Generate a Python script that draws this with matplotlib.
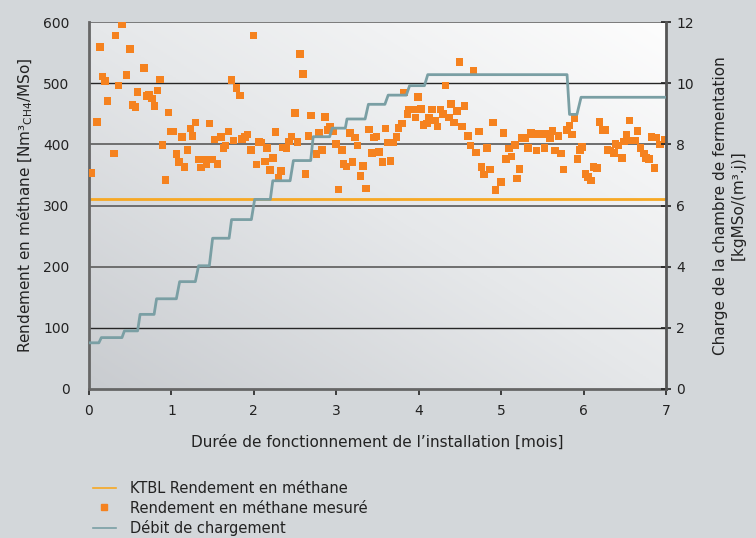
import numpy as np
import matplotlib.pyplot as plt
from matplotlib.colors import LinearSegmentedColormap
from matplotlib.lines import Line2D

# measured methane yield (months, Nm3 CH4 / t MSo)
mes_x = [0.397, 0.324, 0.130, 0.494, 0.664, 0.457, 0.166, 0.194, 0.861, 0.360,
         0.591, 0.833, 0.700, 0.728, 0.761, 0.227, 0.530, 0.562, 0.797, 0.967,
         0.097, 1.294, 1.464, 1.234, 0.995, 1.023, 1.258, 1.125, 1.695, 1.598,
         1.525, 1.751, 0.894, 1.658, 1.634, 0.300, 1.197, 1.064, 1.092, 1.161,
         1.331, 1.392, 1.492, 1.428, 1.362, 1.561, 0.028, 0.930, 1.731,
         1.998, 2.560, 2.593, 1.792, 1.832, 2.499, 2.693, 2.863, 1.860, 1.893,
         1.925, 2.265, 2.459, 2.665, 2.794, 2.924, 2.896, 2.964, 3.166, 3.227,
         3.397, 3.457, 3.490, 2.062, 2.095, 2.423, 2.532, 2.357, 2.398, 2.159,
         1.962, 2.996, 3.260, 3.066, 2.827, 2.762, 2.229, 2.132, 2.034, 3.433,
         3.518, 3.090, 3.126, 3.199, 3.328, 2.196, 2.326, 2.297, 2.629, 3.296,
         3.360, 3.029,
         4.497, 4.667, 4.327, 3.825, 3.995, 4.392, 4.558, 3.886, 3.931, 3.862,
         4.028, 4.161, 4.267, 4.295, 4.464, 3.963, 4.125, 4.198, 4.367, 4.060,
         4.100, 4.230, 4.428, 4.525, 3.794, 3.757, 3.599, 4.898, 4.731, 5.031,
         4.598, 3.733, 3.631, 3.692, 4.631, 4.695, 4.828, 5.253, 5.168, 5.095,
         5.128, 5.059, 3.563, 3.660, 4.764, 4.865, 4.792, 5.225, 5.192, 4.995,
         4.934,
         5.892, 5.832, 5.799, 5.860, 6.196, 6.559, 6.232, 6.264, 6.657, 6.523,
         5.625, 5.359, 5.390, 5.447, 5.487, 5.520, 5.553, 5.593, 5.698, 5.298,
         6.826, 6.887, 6.494, 6.591, 6.632, 6.991, 6.927, 6.390, 6.426, 5.985,
         5.960, 5.329, 5.431, 5.528, 5.657, 5.730, 6.293, 6.329, 6.373, 6.693,
         6.733, 6.757, 6.797, 6.466, 5.929, 5.759, 6.123, 6.163, 6.863, 6.026,
         6.057, 6.094]
mes_y = [596, 578, 559, 556, 525, 513, 511, 504, 506, 496,
         486, 488, 479, 481, 475, 471, 464, 461, 463, 452,
         437, 436, 434, 426, 421, 421, 414, 412, 421, 412,
         408, 406, 399, 398, 394, 385, 391, 384, 371, 363,
         375, 375, 375, 368, 362, 368, 353, 342, 505,
         578, 548, 515, 492, 480, 451, 447, 445, 409, 412,
         416, 420, 413, 414, 419, 428, 423, 421, 419, 411,
         424, 411, 413, 404, 403, 405, 404, 395, 394, 394,
         391, 401, 398, 391, 391, 384, 378, 372, 367, 386,
         388, 368, 364, 371, 365, 358, 356, 345, 352, 348,
         328, 326,
         535, 520, 496, 485, 477, 466, 463, 457, 457, 450,
         458, 457, 457, 450, 455, 444, 444, 439, 444, 432,
         434, 429, 436, 429, 434, 427, 426, 436, 421, 419,
         414, 412, 403, 403, 398, 387, 394, 410, 399, 393,
         380, 376, 371, 373, 363, 359, 351, 360, 344, 338,
         325,
         442, 431, 423, 416, 437, 439, 423, 423, 422, 416,
         422, 419, 416, 417, 417, 417, 417, 410, 414, 410,
         412, 411, 405, 406, 406, 408, 400, 401, 398, 396,
         391, 394, 390, 394, 390, 385, 391, 390, 386, 394,
         385, 378, 376, 378, 376, 359, 363, 361, 361, 352,
         347, 341]

# KTBL reference yield
ktbl_x = [0, 7]
ktbl_y = [310, 310]

# loading rate (right axis, kgMSo/(m3.j))
load_x = [0, 0.12, 0.15, 0.40, 0.43, 0.59, 0.62, 0.79, 0.82, 1.06, 1.10,
          1.29, 1.33, 1.46, 1.50, 1.70, 1.73, 1.97, 2.01, 2.20, 2.23,
          2.44, 2.48, 2.69, 2.72, 2.92, 2.95, 3.11, 3.13, 3.35, 3.39,
          3.59, 3.63, 3.85, 3.89, 4.07, 4.11, 5.80, 5.83, 5.92, 5.97, 7.0]
load_y = [1.51, 1.51, 1.68, 1.68, 1.90, 1.90, 2.44, 2.44, 2.95, 2.95, 3.51,
          3.51, 4.03, 4.03, 4.93, 4.93, 5.54, 5.54, 6.20, 6.20, 6.81,
          6.81, 7.47, 7.47, 8.25, 8.25, 8.53, 8.53, 8.83, 8.83, 9.31,
          9.31, 9.61, 9.61, 9.92, 9.92, 10.28, 10.28, 8.98, 8.98, 9.54, 9.54]

x_ticks = [0, 1, 2, 3, 4, 5, 6, 7]
y_ticks = [0, 100, 200, 300, 400, 500, 600]
y2_ticks = [0, 2, 4, 6, 8, 10, 12]

c_orange = '#F5821F'
c_ktbl = '#F7A823'
c_load = '#7A9FA4'

plt.rcParams['font.family'] = ['DejaVu Sans']

fig = plt.figure(figsize=(7.56, 5.38), dpi=100)
fig.patch.set_facecolor('#D3D7DA')
ax = fig.add_axes([0.1177, 0.277, 0.7632, 0.682])

# diagonal gradient for the plot area
gx, gy = np.meshgrid(np.linspace(0, 1, 200), np.linspace(0, 1, 200))
grad = (gx + gy) / 2
cmap = LinearSegmentedColormap.from_list('bg', ['#C9CCD0', '#E6E8EA', '#FDFDFD'])
ax.imshow(grad, extent=[0, 7, 0, 600], origin='lower', cmap=cmap,
          aspect='auto', zorder=0)

for v in y_ticks[1:-1]:
    if v in (100, 500):
        ax.axhline(v, color='#262626', lw=1.0, zorder=1)
    else:
        ax.axhline(v, color='#6E6E6E', lw=1.4, zorder=1)
ax.axhline(600, color='#7A7A7A', lw=1.4, zorder=1)

ax.plot(ktbl_x, ktbl_y, color=c_ktbl, lw=2, zorder=2)
ax.scatter(mes_x, mes_y, marker='s', s=30, color=c_orange,
           edgecolors='none', zorder=4)

ax.set_xlim(0, 7)
ax.set_ylim(0, 600)
ax.set_xticks(x_ticks)
ax.set_yticks(y_ticks)
ax.tick_params(labelsize=10, colors='#222222', length=4, width=1.2)
ax.tick_params(axis='x', pad=7)
ax.tick_params(axis='y', length=0, pad=14)
for s in ['top', 'right']:
    ax.spines[s].set_visible(False)
for s in ['left', 'bottom']:
    ax.spines[s].set_color('#666666')
    ax.spines[s].set_linewidth(2)

ax.set_xlabel('Durée de fonctionnement de l’installation [mois]',
              fontsize=11, color='#222222', labelpad=12)
ax.set_ylabel('Rendement en méthane [Nm³$_{\\mathrm{CH4}}$/MSo]',
              fontsize=11, color='#222222', labelpad=6)

ax2 = ax.twinx()
ax2.plot(load_x, load_y, color=c_load, lw=2, zorder=3)
ax2.set_ylim(0, 12)
ax2.set_yticks(y2_ticks)
ax2.tick_params(labelsize=10, colors='#222222', direction='inout',
                length=7, width=1.2, pad=4)
for s in ['top', 'left', 'bottom']:
    ax2.spines[s].set_visible(False)
ax2.spines['right'].set_color('#555555')
ax2.spines['right'].set_linewidth(2)
ax2.set_ylabel('Charge de la chambre de fermentation\n[kgMSo/(m³.j)]',
               fontsize=11, color='#222222', labelpad=14)

handles = [
    Line2D([], [], color=c_ktbl, lw=1.2),
    Line2D([], [], color=c_orange, marker='s', ls='none', ms=5),
    Line2D([], [], color=c_load, lw=1.2),
]
labels = ['KTBL Rendement en méthane', 'Rendement en méthane mesuré',
          'Débit de chargement']
fig.legend(handles, labels, loc='upper left', bbox_to_anchor=(0.105, 0.13),
           frameon=False, fontsize=10.5, handlelength=1.6, labelspacing=0.3,
           handletextpad=1.0, labelcolor='#222222')

fig.savefig('out.png', dpi=100, facecolor=fig.get_facecolor())
